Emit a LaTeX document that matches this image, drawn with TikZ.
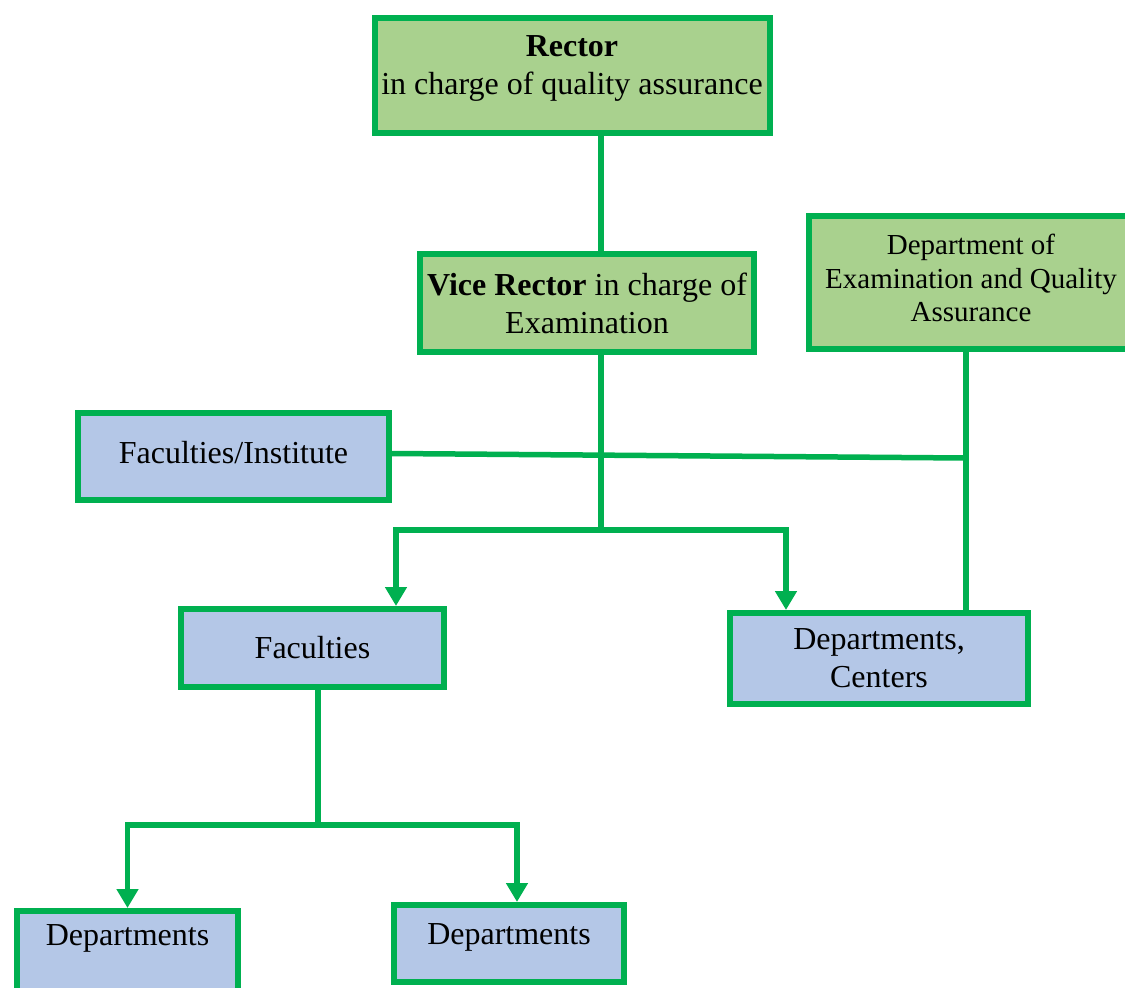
\documentclass[tikz,border=0pt]{standalone}
\usepackage{fontspec}
\setmainfont{Liberation Serif}
\usetikzlibrary{arrows.meta}
\definecolor{lgreen}{HTML}{A9D18E}
\definecolor{dgreen}{HTML}{00B050}
\definecolor{lblue}{HTML}{B4C7E7}
\tikzset{
  box/.style={draw=dgreen, line width=6pt, rectangle, align=center, inner sep=0pt,
    font=\fontsize{32}{38}\selectfont},
  gbox/.style={box, fill=lgreen},
  bbox/.style={box, fill=lblue},
  conn/.style={draw=dgreen, line width=5.5pt},
  arr/.style={conn, -{Triangle[width=21pt,length=19pt]}},
  lbl/.style={font=\fontsize{32}{38}\selectfont},
}
\begin{document}
\begin{tikzpicture}[x=1pt,y=-1pt]
\useasboundingbox (0,0) rectangle (1125,988);
\clip (0,0) rectangle (1125,988);
\node[gbox, minimum width=395pt, minimum height=115pt] (rector) at (572,75) {};
\node[lbl, align=center] (rectort) at (572,68) {\textbf{Rector}\\in charge of quality assurance};
\node[gbox, minimum width=334pt, minimum height=98pt] (vice) at (587,303)
  {\textbf{Vice Rector} in charge of\\Examination};
\node[gbox, minimum width=324pt, minimum height=133pt] (dexam) at (971,282.5) {};
\node[align=center, font=\fontsize{29}{33.5}\selectfont] (dexamt) at (971,278)
  {Department of\\Examination and Quality\\Assurance};
\node[bbox, minimum width=311pt, minimum height=87pt] (facinst) at (233.5,456.5) {};
\node[lbl] (facinstt) at (233.5,452.5) {Faculties/Institute};
\node[bbox, minimum width=263pt, minimum height=78pt] (fac) at (312.5,648) {Faculties};
\node[bbox, minimum width=298pt, minimum height=91pt] (depcen) at (879,658.5) {Departments,\\Centers};
\node[bbox, minimum width=221pt, minimum height=110pt, anchor=north] (d1) at (127.5,908) {};
\node[lbl] (d1t) at (127.5,938) {Departments};
\node[bbox, minimum width=230pt, minimum height=77pt] (d2) at (509,943.5) {};
\node[lbl] (d2t) at (509,937) {Departments};
% connectors
\coordinate (j1) at (601,530);
\coordinate (j2) at (966,458);
\coordinate (j3) at (318,825);
\draw[conn] ([xshift=29pt]rector.south) -- ([xshift=14pt]vice.north);
\draw[conn] ([xshift=14pt]vice.south) -- (j1);
\draw[arr] (j1) -| ([xshift=83.5pt]fac.north);
\draw[arr] (j1) -| ([xshift=-93pt]depcen.north);
\draw[conn] ([xshift=-5pt]dexam.south) -- ([xshift=-5pt]dexam.south |- depcen.north);
\draw[conn] ([yshift=3pt]facinst.east) -- (j2);
\draw[conn] ([xshift=5.5pt]fac.south) -- (j3);
\draw[arr] (j3) -| (d1.north);
\draw[arr] (j3) -| ([xshift=8pt]d2.north);
\end{tikzpicture}
\end{document}
